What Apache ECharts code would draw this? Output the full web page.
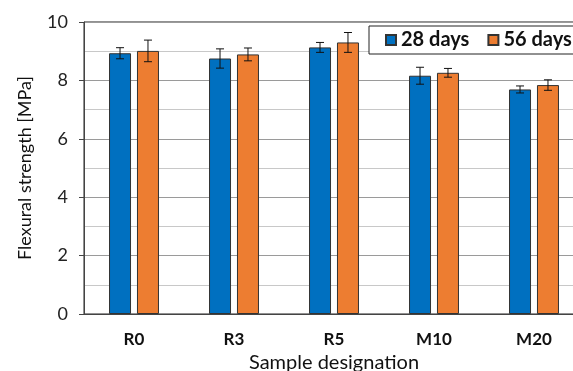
<!DOCTYPE html>
<html>
<head>
<meta charset="utf-8">
<script src="https://cdn.jsdelivr.net/npm/echarts@6/dist/echarts.min.js"></script>
<style>
  html, body { margin: 0; padding: 0; background: #fff; }
  #chart { width: 573px; height: 371px; }
</style>
</head>
<body>
<div id="chart"></div>
<script>
// sample groups and measured flexural strength (MPa)
var categories = ['R0', 'R3', 'R5', 'M10', 'M20'];
var days28 = [8.93, 8.75, 9.13, 8.16, 7.69];
var days56 = [9.01, 8.89, 9.30, 8.26, 7.84];
// standard deviations drawn as error bars
var err28 = [0.19, 0.33, 0.17, 0.29, 0.12];
var err56 = [0.37, 0.22, 0.34, 0.15, 0.18];
var yTicks = [0, 2, 4, 6, 8, 10];

var BAR_W = 0.22, BAR_GAP = 0.27;
var font = 'Lato, "Open Sans", sans-serif';

function errorSeries(name, vals, errs, side) {
    var data = vals.map(function (v, i) { return [i, v - errs[i], v + errs[i]]; });
    return {
        type: 'custom',
        name: name + ' err',
        z: 3,
        silent: true,
        data: data,
        renderItem: function (params, api) {
            var band = api.size([1, 0])[0];
            var off = side * band * BAR_W * (1 + BAR_GAP) / 2;
            var lo = api.coord([api.value(0), api.value(1)]);
            var hi = api.coord([api.value(0), api.value(2)]);
            var x = lo[0] + off, cap = 4;
            var st = { stroke: '#111', lineWidth: 1 };
            return {
                type: 'group',
                children: [
                    { type: 'line', shape: { x1: x, y1: lo[1], x2: x, y2: hi[1] }, style: st },
                    { type: 'line', shape: { x1: x - cap, y1: lo[1], x2: x + cap, y2: lo[1] }, style: st },
                    { type: 'line', shape: { x1: x - cap, y1: hi[1], x2: x + cap, y2: hi[1] }, style: st }
                ]
            };
        }
    };
}

var chart = echarts.init(document.getElementById('chart'));
chart.setOption({
    animation: false,
    textStyle: { fontFamily: font },
    grid: {
        left: 84, top: 22, width: 500, height: 292,
        outerBoundsMode: 'none',
        show: true, borderColor: '#222', borderWidth: 1
    },
    legend: {
        data: ['28 days', '56 days'],
        orient: 'horizontal',
        left: 369, top: 26, width: 260,
        z: 20,
        icon: 'rect',
        padding: [4, 20, 4, 16],
        itemGap: 18,
        itemWidth: 10, itemHeight: 10,
        backgroundColor: '#fff',
        borderColor: '#222', borderWidth: 1,
        textStyle: { fontSize: 20, fontWeight: 'bold', color: '#111', fontFamily: font }
    },
    xAxis: {
        type: 'category',
        data: categories,
        axisTick: { show: false },
        axisLine: { lineStyle: { color: '#444' } },
        axisLabel: { fontSize: 17, fontWeight: 'bold', color: '#111', margin: 17 },
        name: 'Sample designation',
        nameLocation: 'middle',
        nameGap: 39,
        nameTextStyle: { fontSize: 20, color: '#111' }
    },
    yAxis: {
        type: 'value',
        min: 0, max: 10, interval: 2,
        axisLine: { show: true, lineStyle: { color: '#444' } },
        axisTick: { show: true, length: 5, lineStyle: { color: '#444' } },
        axisLabel: {
            fontSize: 18, color: '#222', margin: 16,
            formatter: function (v) { return yTicks.indexOf(v) >= 0 ? String(v) : ''; }
        },
        splitLine: { lineStyle: { color: '#9a9a9a' } },
        minorTick: { show: false, splitNumber: 2 },
        minorSplitLine: { show: true, lineStyle: { color: '#c8c8c8' } },
        name: 'Flexural strength [MPa]',
        nameLocation: 'middle',
        nameGap: 50,
        nameTextStyle: { fontSize: 18, color: '#111' }
    },
    series: [
        {
            name: '28 days', type: 'bar', data: days28,
            barWidth: (BAR_W * 100) + '%', barGap: (BAR_GAP * 100) + '%',
            itemStyle: { color: '#0070C0', borderColor: '#333', borderWidth: 1 }
        },
        {
            name: '56 days', type: 'bar', data: days56,
            barWidth: (BAR_W * 100) + '%', barGap: (BAR_GAP * 100) + '%',
            itemStyle: { color: '#ED7D31', borderColor: '#333', borderWidth: 1 }
        },
        errorSeries('28 days', days28, err28, -1),
        errorSeries('56 days', days56, err56, 1)
    ]
});
</script>
</body>
</html>
